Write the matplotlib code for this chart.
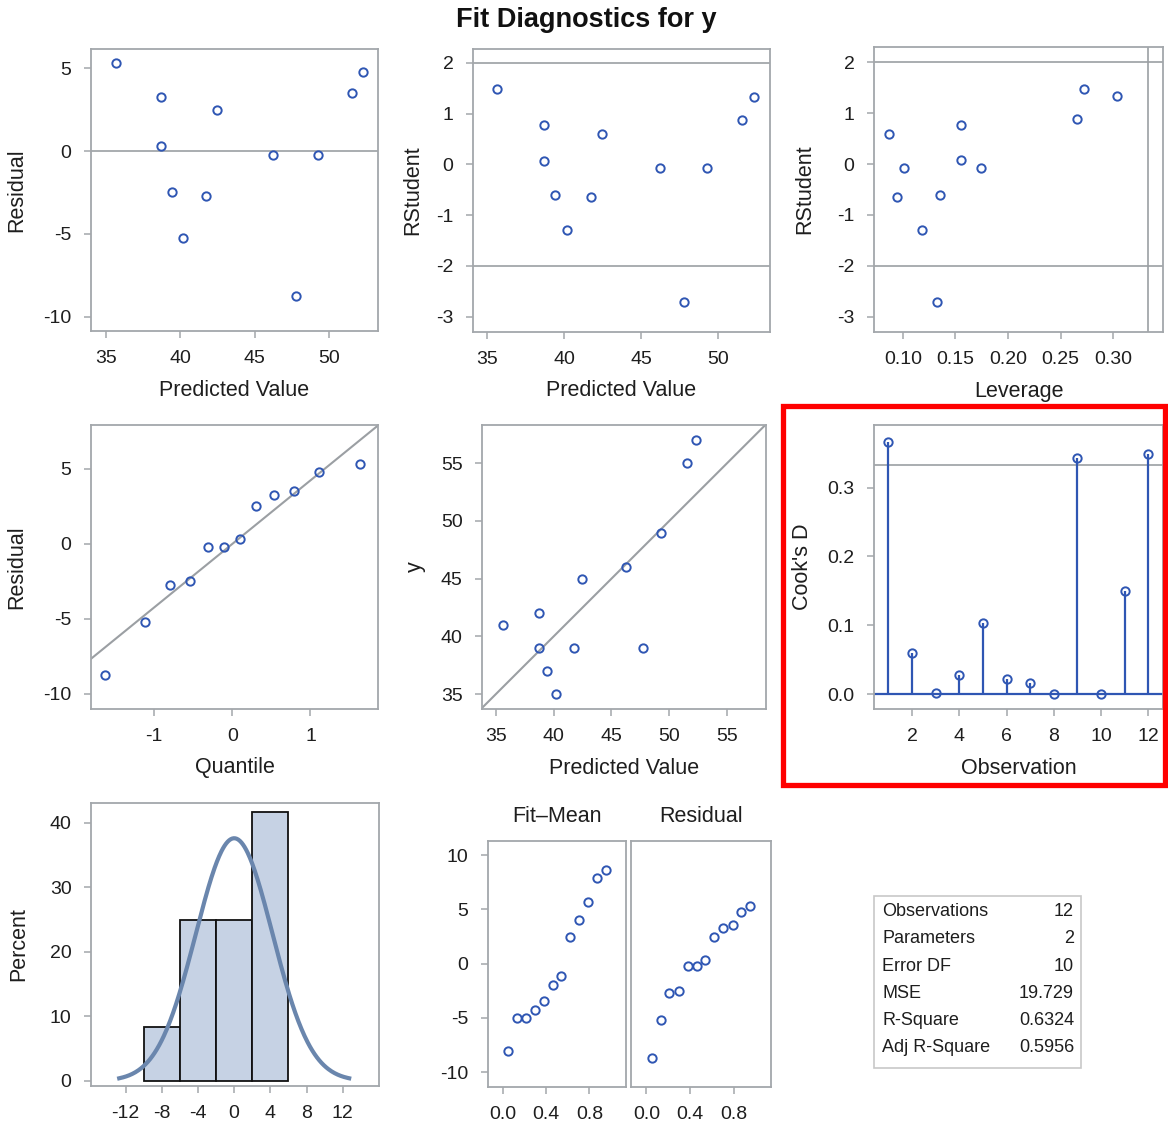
import numpy as np
import matplotlib
matplotlib.use("Agg")
import matplotlib.pyplot as plt
from matplotlib.patches import Rectangle

plt.rcParams['font.family'] = ['Liberation Sans', 'DejaVu Sans']
plt.rcParams['axes.unicode_minus'] = False

# values (observations in data order)
obs = [1, 2, 3, 4, 5, 6, 7, 8, 9, 10, 11, 12]
pred = [35.65, 38.69, 38.69, 39.41, 40.17, 41.72, 42.45, 46.24, 47.76, 49.28, 51.52, 52.30]
y_obs = [41, 42, 39, 37, 35, 39, 45, 46, 39, 49, 55, 57]
resid = [5.34, 3.29, 0.33, -2.49, -5.23, -2.73, 2.50, -0.23, -8.75, -0.23, 3.53, 4.78]
rstudent = [1.48, 0.77, 0.07, -0.60, -1.30, -0.64, 0.59, -0.08, -2.71, -0.08, 0.88, 1.33]
leverage = [0.272, 0.155, 0.155, 0.135, 0.118, 0.094, 0.087, 0.101, 0.132, 0.174, 0.266, 0.304]
cooksd = [0.367, 0.059, 0.001, 0.027, 0.103, 0.022, 0.016, 0.000, 0.343, 0.000, 0.150, 0.349]

qq_quantile = [-1.63, -1.11, -0.79, -0.54, -0.31, -0.10, 0.10, 0.31, 0.54, 0.79, 1.11, 1.63]
qq_slope = 4.24

rf_prop = [0.05, 0.13, 0.21, 0.30, 0.38, 0.46, 0.54, 0.62, 0.70, 0.79, 0.87, 0.95]
fit_mean = [-8.1, -5.0, -5.0, -4.3, -3.4, -2.0, -1.1, 2.5, 4.0, 5.7, 7.9, 8.6]

bin_edges = [-10, -6, -2, 2, 6]
bin_percent = [8.33, 25.0, 25.0, 41.67]
normal_sd = 4.24

stat_names = ['Observations', 'Parameters', 'Error DF', 'MSE', 'R-Square', 'Adj R-Square']
stat_values = ['12', '2', '10', '19.729', '0.6324', '0.5956']

cook_cut = 4 / 12
lev_cut = 0.333

W, H = 1168, 1126
BLUE = '#2f56b3'
FRAME = '#a3a7ab'
REF = '#9b9fa3'
TXT = '#1e1e1e'
TICK_FS = 14
LAB_FS = 15.5

fig = plt.figure(figsize=(W / 100, H / 100), dpi=100)


def panel(l, t, r, b):
    ax = fig.add_axes([l / W, 1 - b / H, (r - l) / W, (b - t) / H])
    for s in ax.spines.values():
        s.set_color(FRAME)
        s.set_linewidth(1.3)
    ax.tick_params(colors=FRAME, labelcolor=TXT, labelsize=TICK_FS,
                   length=5, width=1.1, pad=9)
    return ax


def labels(ax, box, xlab=None, ylab=None, ylab_x=None):
    l, t, r, b = box
    if xlab:
        ax.set_xlabel(xlab, fontsize=LAB_FS, color=TXT, va='center')
        ax.xaxis.set_label_coords(0.5, -59 / (b - t))
    if ylab:
        ax.set_ylabel(ylab, fontsize=LAB_FS, color=TXT, va='center')
        ax.yaxis.set_label_coords((ylab_x - l) / (r - l), 0.5)


def dots(ax, x, y):
    ax.plot(x, y, 'o', ms=6, mfc='none', mec=BLUE, mew=1.4, zorder=3)


# row 1: residual vs predicted
b1 = (91, 49, 378, 331)
ax = panel(*b1)
dots(ax, pred, resid)
ax.axhline(0, color=REF, lw=1.2)
ax.set_xlim(33.99, 53.29)
ax.set_ylim(-10.86, 6.17)
ax.set_xticks([35, 40, 45, 50])
ax.set_yticks([-10, -5, 0, 5])
labels(ax, b1, 'Predicted Value', 'Residual', 17)

# rstudent vs predicted
b2 = (473, 49, 770, 332)
ax = panel(*b2)
dots(ax, pred, rstudent)
ax.axhline(2, color=REF, lw=1.2)
ax.axhline(-2, color=REF, lw=1.2)
ax.set_xlim(34.09, 53.35)
ax.set_ylim(-3.30, 2.27)
ax.set_xticks([35, 40, 45, 50])
ax.set_yticks([-3, -2, -1, 0, 1, 2])
labels(ax, b2, 'Predicted Value', 'RStudent', 413)

# rstudent vs leverage
b3 = (874, 47, 1163, 332)
ax = panel(*b3)
dots(ax, leverage, rstudent)
ax.axhline(2, color=REF, lw=1.2)
ax.axhline(-2, color=REF, lw=1.2)
ax.axvline(lev_cut, color=REF, lw=1.2)
ax.set_xlim(0.0724, 0.3476)
ax.set_ylim(-3.30, 2.30)
ax.set_xticks([0.10, 0.15, 0.20, 0.25, 0.30])
ax.set_xticklabels(['0.10', '0.15', '0.20', '0.25', '0.30'])
ax.set_yticks([-3, -2, -1, 0, 1, 2])
labels(ax, b3, 'Leverage', 'RStudent', 805)

# row 2: QQ plot
b4 = (91, 425, 378, 709)
ax = panel(*b4)
xl = (-1.805, 1.863)
ax.plot(xl, [qq_slope * xl[0], qq_slope * xl[1]], color=REF, lw=1.5)
dots(ax, qq_quantile, np.sort(resid))
ax.set_xlim(*xl)
ax.set_ylim(-11.0, 7.93)
ax.set_xticks([-1, 0, 1])
ax.set_yticks([-10, -5, 0, 5])
labels(ax, b4, 'Quantile', 'Residual', 17)

# y vs predicted
b5 = (482, 425, 766, 709)
ax = panel(*b5)
ax.plot([33.7, 58.4], [33.7, 58.4], color=REF, lw=1.5)
dots(ax, pred, y_obs)
ax.set_xlim(33.79, 58.38)
ax.set_ylim(33.70, 58.32)
ax.set_xticks([35, 40, 45, 50, 55])
ax.set_yticks([35, 40, 45, 50, 55])
labels(ax, b5, 'Predicted Value', 'y', 415)

# Cook's D
b6 = (874, 425, 1163, 709)
ax = panel(*b6)
ax.axhline(cook_cut, color=REF, lw=1.2)
ax.axhline(0, color=BLUE, lw=1.6)
ax.vlines(obs, 0, cooksd, color=BLUE, lw=1.6)
dots(ax, obs, cooksd)
ax.set_xlim(0.392, 12.62)
ax.set_ylim(-0.0218, 0.391)
ax.set_xticks([2, 4, 6, 8, 10, 12])
ax.set_yticks([0.0, 0.1, 0.2, 0.3])
ax.set_yticklabels(['0.0', '0.1', '0.2', '0.3'])
labels(ax, b6, 'Observation', "Cook's D", 803)

# row 3: residual histogram
b7 = (91, 803, 379, 1086)
ax = panel(*b7)
ax.bar(bin_edges[:-1], bin_percent, width=np.diff(bin_edges), align='edge',
       color='#c6d2e4', edgecolor='#111111', lw=1.3, zorder=2)
xs = np.linspace(-3 * normal_sd, 3 * normal_sd, 300)
dens = 100 * 4 * np.exp(-0.5 * (xs / normal_sd) ** 2) / (normal_sd * np.sqrt(2 * np.pi))
ax.plot(xs, dens, color='#6a86ad', lw=3, zorder=3)
ax.set_xlim(-15.84, 16.02)
ax.set_ylim(-0.78, 43.1)
ax.set_xticks([-12, -8, -4, 0, 4, 8, 12])
ax.set_yticks([0, 10, 20, 30, 40])
labels(ax, b7, None, 'Percent', 19)

# residual-fit spread plot
b8 = (488, 841, 626, 1087)
ax = panel(*b8)
dots(ax, rf_prop, fit_mean)
ax.set_xlim(-0.14, 1.14)
ax.set_ylim(-11.38, 11.32)
ax.set_xticks([0.0, 0.4, 0.8])
ax.set_xticklabels(['0.0', '0.4', '0.8'])
ax.set_yticks([-10, -5, 0, 5, 10])
ax.set_title('Fit\u2013Mean', fontsize=LAB_FS, color=TXT, pad=14)

b9 = (631, 841, 771, 1087)
ax = panel(*b9)
dots(ax, rf_prop, np.sort(resid))
ax.set_xlim(-0.14, 1.14)
ax.set_ylim(-11.38, 11.32)
ax.set_xticks([0.0, 0.4, 0.8])
ax.set_xticklabels(['0.0', '0.4', '0.8'])
ax.set_yticks([])
ax.set_title('Residual', fontsize=LAB_FS, color=TXT, pad=14)

# fit statistics box
fig.patches.append(Rectangle((874 / W, 1 - 1068 / H), (1081 - 874) / W, (1068 - 896) / H,
                             transform=fig.transFigure, fill=False,
                             edgecolor='#c8c8c8', lw=1.2))
for i, (name, val) in enumerate(zip(stat_names, stat_values)):
    yy = 1 - (911.5 + i * 27.3) / H
    fig.text(882 / W, yy, name, fontsize=13, va='center', ha='left', color=TXT)
    fig.text(1074 / W, yy, val, fontsize=13, va='center', ha='right', color=TXT)

# title
fig.text(586 / W, 1 - 20 / H, 'Fit Diagnostics for y', fontsize=19.5,
         fontweight='bold', ha='center', va='center', color='#111111')

# red highlight box around Cook's D panel
fig.patches.append(Rectangle((782.5 / W, 1 - 785 / H), (1165 - 782.5) / W, (785 - 406) / H,
                             transform=fig.transFigure, fill=False,
                             edgecolor='#ff0000', lw=3.8))

fig.savefig('out.png', dpi=100)
